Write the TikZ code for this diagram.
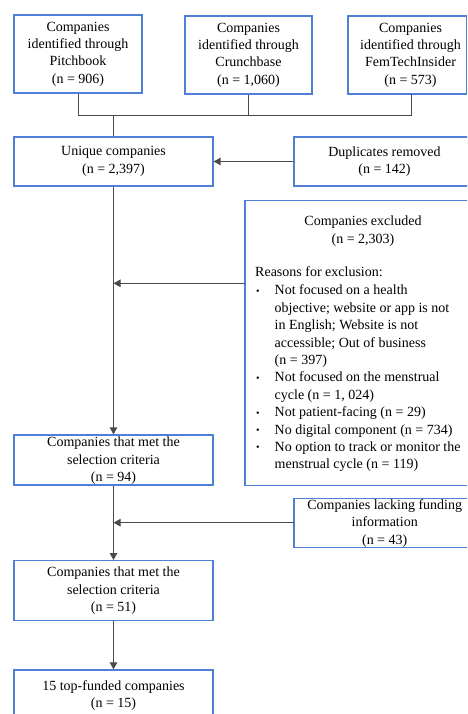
\documentclass[tikz,border=0pt]{standalone}
\usepackage{fontspec}
\setmainfont{Liberation Serif}
\usetikzlibrary{arrows.meta}
\definecolor{boxblue}{HTML}{4F7FD6}
\definecolor{lncol}{HTML}{4A4A4A}
\newcommand{\bul}{{\fontsize{10}{17.4}\selectfont\raisebox{0.6pt}{\textbullet}}}
\begin{document}
\begin{tikzpicture}[x=1pt,y=-1pt,
  box/.style={draw=boxblue,line width=1.3pt,inner sep=0pt},
  txt/.style={align=center,inner sep=0pt,font=\fontsize{14}{17.4}\selectfont},
  ltxt/.style={align=left,anchor=west,inner sep=0pt,font=\fontsize{14}{17.4}\selectfont},
  conn/.style={draw=lncol,line width=1pt},
  arr/.style={conn,-{Triangle[length=7pt,width=7.5pt]}}]
\useasboundingbox (0,0) rectangle (467,714);
\clip (0,0) rectangle (467,714);
\fill[white] (0,0) rectangle (467,714);
% boxes
\node[box,minimum width=128pt,minimum height=78pt] (pb) at (78,54) {};
\node[txt] at (pb.center) {Companies\\identified through\\Pitchbook\\(n = 906)};
\node[box,minimum width=127pt,minimum height=78pt] (cb) at (248.5,55) {};
\node[txt] at (cb.center) {Companies\\identified through\\Crunchbase\\(n = 1,060)};
\node[box,minimum width=118.5pt,minimum height=78pt] (ft) at (407.25,55) {};
\node[txt] (fttext) at (410.5,55) {Companies\\identified through\\FemTechInsider\\(n = 573)};
\node[box,minimum width=199pt,minimum height=49pt] (uq) at (113.5,161.5) {};
\node[txt] at (uq.center) {Unique companies\\(n = 2,397)};
\node[box,minimum width=181pt,minimum height=49pt] (dup) at (384.5,161.5) {};
\node[txt] at (dup.center) {Duplicates removed\\(n = 142)};
\node[box,minimum width=236pt,minimum height=284.5pt] (exc) at (363,342.9) {};
\node[txt] (exch) at (363,231) {Companies excluded\\(n = 2,303)};
\node[ltxt] (reas) at (255,272) {Reasons for exclusion:};
\node[ltxt,anchor=north west] (bullets) at (256,282.5) {\strut\bul\\\mbox{}\\\mbox{}\\\mbox{}\\\mbox{}\\\bul\\\mbox{}\\\bul\\\bul\\\bul\\\mbox{}};
\node[ltxt,anchor=north west] (items) at (274.5,282.5) {\strut Not focused on a health\\objective; website or app is not\\in English; Website is not\\accessible; Out of business\\(n = 397)\\Not focused on the menstrual\\cycle (n = 1, 024)\\Not patient-facing (n = 29)\\No digital component (n = 734)\\No option to track or monitor the\\menstrual cycle (n = 119)};
\node[box,minimum width=199pt,minimum height=50pt] (m94) at (113.5,460) {};
\node[txt] at (113.5,460.7) {Companies that met the\\selection criteria\\(n = 94)};
\node[box,minimum width=181pt,minimum height=49pt] (lack) at (384.5,523.3) {};
\node[txt] at (384.7,523.5) {Companies lacking funding\\information\\(n = 43)};
\node[box,minimum width=199pt,minimum height=59.6pt] (m51) at (113.5,590.5) {};
\node[txt] at (113.5,590.7) {Companies that met the\\selection criteria\\(n = 51)};
\node[box,minimum width=199pt,minimum height=60pt] (top) at (113.5,700) {};
\node[txt] at (113.5,695.3) {15 top-funded companies\\(n = 15)};
% connectors
\coordinate (jl) at (78,115.7);
\coordinate (jr) at (411,115.7);
\coordinate (jm) at (113.5,115.7);
\draw[conn] (pb.south) -- (jl) -- (jr) -- (411,94);
\draw[conn] (cb.south) -- (248.5,115.7);
\draw[conn] (jm) -- (uq.north);
\draw[arr] (dup.west) -- (uq.east);
\draw[arr] (uq.south) -- (m94.north);
\coordinate (e1) at (113.5,283.3);
\draw[arr] (245,283.3) -- (e1);
\coordinate (l1) at (113.5,522.7);
\draw[arr] (294,522.7) -- (l1);
\draw[arr] (m94.south) -- (m51.north);
\draw[arr] (m51.south) -- (top.north);
\end{tikzpicture}
\end{document}
